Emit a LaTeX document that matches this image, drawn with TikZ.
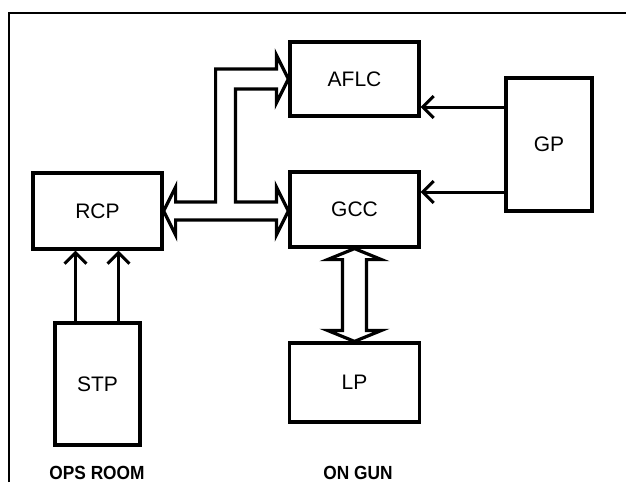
\documentclass[tikz,border=0pt]{standalone}
\usepackage{fontspec}
\setmainfont{Liberation Sans}
\newfontfamily\narrowfont[FakeStretch=0.91]{Liberation Sans}
\usetikzlibrary{calc,arrows.meta}

\tikzset{
  bloque/.style={draw, line width=3.2pt, inner sep=0pt, minimum width=129pt, minimum height=75pt,
    font=\fontsize{21}{24}\selectfont},
  flecha/.style={line width=3pt, -{Straight Barb[length=11pt,width=22pt]}},
  hueca/.style={line width=3.2pt, line join=miter},
  rotulo/.style={font=\narrowfont\bfseries\fontsize{19}{22}\selectfont}
}

\begin{document}
\begin{tikzpicture}[x=1pt,y=-1pt]
  \useasboundingbox (0,0) rectangle (626,482);
  % marco
  \draw[line width=2.4pt] (9,482) -- (9,13) -- (626,13);
  % bloques
  \node[bloque, minimum height=74pt] (aflc) at (354.5,79) {AFLC};
  \node[bloque] (gcc) at (354.5,209.5) {GCC};
  \node[bloque, minimum width=130pt, minimum height=79pt] (lp) at (354.5,382.5) {LP};
  \node[bloque, minimum height=76pt] (rcp) at (97.5,211) {RCP};
  \node[bloque, minimum width=85pt, minimum height=122pt] (stp) at (97.5,384) {STP};
  \node[bloque, minimum width=86pt, minimum height=133pt] (gp) at (549,144.5) {GP};
  % GP -> AFLC, GCC
  \coordinate (g1) at ($(gp.west)+(0,-37.5)$);
  \coordinate (g2) at ($(gp.west)+(0,47.5)$);
  \draw[flecha] (g1) -- (g1 -| aflc.east);
  \draw[flecha] (g2) -- (g2 -| gcc.east);
  % STP -> RCP
  \coordinate (s1) at ($(stp.north)+(-22,0)$);
  \coordinate (s2) at ($(stp.north)+(21,0)$);
  \draw[flecha] (s1) -- (s1 |- rcp.south);
  \draw[flecha] (s2) -- (s2 |- rcp.south);
  % flecha hueca RCP <-> AFLC, GCC
  \coordinate (ga) at (gcc.west |- rcp.east);
  \draw[hueca] (rcp.east) -- ++(12,-24) -- ++(0,15) -- ++(40,0)
    |- ($(aflc.west)+(-12,-10)$) -- ++(0,-14) -- (aflc.west) -- ++(-12,24) -- ++(0,-14) -- ++(-41,0)
    |- ($(ga)+(-12,-9)$) -- ++(0,-15) -- (ga) -- ++(-12,24) -- ++(0,-15)
    -- ($(rcp.east)+(12,9)$) -- ++(0,15) -- cycle;
  % flecha hueca GCC <-> LP
  \draw[hueca] (gcc.south) -- ++(27,11) -- ++(-15,0) -- ($(lp.north)+(12,-11)$) -- ++(15,0)
    -- (lp.north) -- ++(-27,-11) -- ++(15,0) -- ($(gcc.south)+(-12,11)$) -- ++(-15,0) -- cycle;
  % rotulos
  \node[rotulo] (ops) at (97,473) {OPS ROOM};
  \node[rotulo] (gun) at (358,473) {ON GUN};
\end{tikzpicture}
\end{document}
